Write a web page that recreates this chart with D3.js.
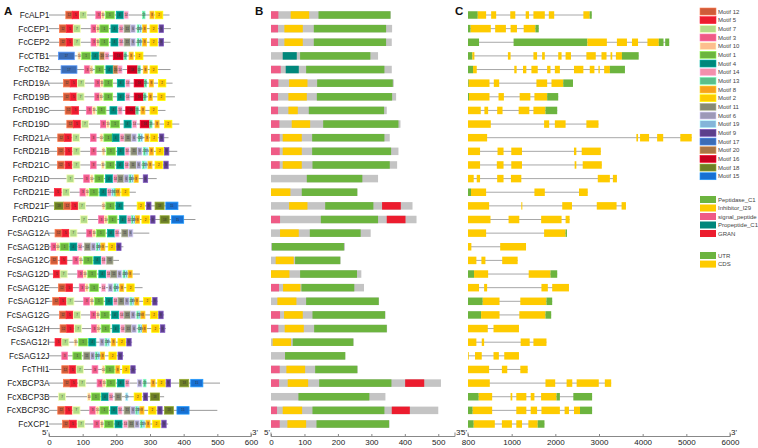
<!DOCTYPE html>
<html><head><meta charset="utf-8">
<script src="https://cdn.jsdelivr.net/npm/d3@7"></script>
<style>body{margin:0;background:#fff}svg{display:block;font-family:Arial,"Liberation Sans",sans-serif}</style>
</head><body><svg id="c" width="758" height="448"></svg>
<script>
const genes = ["FcALP1","FcCEP1","FcCEP2","FcCTB1","FcCTB2","FcRD19A","FcRD19B","FcRD19C","FcRD19D","FcRD21A","FcRD21B","FcRD21C","FcRD21D","FcRD21E","FcRD21F","FcRD21G","FcSAG12A","FcSAG12B","FcSAG12C","FcSAG12D","FcSAG12E","FcSAG12F","FcSAG12G","FcSAG12H","FcSAG12I","FcSAG12J","FcTHI1","FcXBCP3A","FcXBCP3B","FcXBCP3C","FcXCP1"];
const motifIds = [12,5,7,3,10,1,4,14,13,8,2,11,6,19,9,17,20,16,18,15];
const motifColors = ["#cf5b39","#ec1c2e","#b3dc88","#ef5b86","#fdbf8e","#6cb43f","#00877b","#f490ac","#5bbf8b","#f8a11d","#fecb00","#878a75","#9d98b7","#84b5d9","#5c3f8b","#3b6cb6","#a87545","#c8001e","#6d7f26","#1770d3"];
const motifWidths = [20,20,21,17,8,26,21,12,7,12,22,19,13,6,13,47,14,29,27,36];
const proteinLengths = [358,362,361,320,361,367,374,346,387,355,381,377,320,258,423,435,298,221,208,270,278,323,342,347,247,222,259,508,342,500,354];
const motifSites = [
 [[12,50],[5,69],[7,91],[3,139],[10,156],[1,168],[4,200],[14,223],[13,278],[8,300],[2,316]],
 [[12,31],[5,52],[7,72],[3,125],[10,141],[1,151],[4,184],[14,208],[11,223],[6,243],[13,262],[19,269],[8,278],[2,300],[9,327]],
 [[12,31],[5,52],[7,72],[3,125],[10,141],[1,151],[4,184],[14,208],[11,223],[6,243],[13,262],[19,269],[8,278],[2,300],[9,327]],
 [[17,28],[10,86],[1,97],[4,127],[20,151],[14,166],[16,191],[13,223],[8,238],[2,257]],
 [[17,36],[3,105],[10,122],[1,137],[4,169],[20,191],[14,205],[16,233],[13,264],[8,280],[2,300]],
 [[12,43],[5,63],[7,85],[3,136],[10,153],[1,163],[4,203],[14,228],[16,253],[13,283],[8,298],[2,325]],
 [[12,43],[5,63],[7,83],[3,136],[10,151],[1,163],[4,203],[14,228],[16,253],[13,281],[8,295],[2,323]],
 [[12,48],[5,68],[3,111],[10,130],[1,143],[4,181],[14,205],[16,228],[13,258],[8,273],[2,300]],
 [[12,53],[5,73],[7,96],[3,153],[10,171],[1,183],[4,223],[14,248],[16,271],[13,299],[8,315],[2,343]],
 [[12,26],[5,46],[7,70],[3,123],[10,152],[1,163],[4,188],[14,211],[11,225],[6,246],[13,265],[19,272],[8,285],[2,301],[9,328]],
 [[12,25],[5,48],[7,71],[3,123],[10,158],[1,171],[4,203],[14,226],[11,243],[6,263],[13,281],[19,288],[8,298],[2,318],[9,343]],
 [[12,25],[5,48],[7,71],[3,123],[10,156],[1,169],[4,201],[14,225],[11,240],[6,260],[13,278],[19,285],[8,294],[2,315],[9,341]],
 [[7,53],[3,103],[10,123],[1,136],[4,168],[14,191],[11,203],[6,223],[13,238],[19,245],[8,253],[9,280]],
 [[5,16],[7,40],[3,92],[10,110],[1,120],[4,151],[14,173],[19,186],[13,193],[8,199],[2,216]],
 [[18,16],[12,44],[5,67],[7,87],[10,158],[1,169],[4,199],[2,262],[9,290],[18,315],[15,347]],
 [[7,93],[3,147],[10,165],[1,176],[4,209],[14,232],[13,245],[19,251],[8,257],[2,276],[9,302],[18,330],[15,364]],
 [[12,18],[5,39],[7,62],[3,112],[10,130],[1,141],[4,174],[14,196],[11,216],[6,236]],
 [[3,6],[10,22],[1,33],[4,62],[14,86],[11,105],[6,125],[13,141],[19,147],[8,154],[2,176],[9,201]],
 [[12,5],[5,33],[3,71],[10,90],[1,103],[4,133],[14,156],[11,171]],
 [[5,13],[7,33],[3,85],[10,103],[1,115],[4,148],[14,171],[11,183],[6,203],[13,220],[19,227],[8,235]],
 [[12,28],[5,50],[3,90],[10,108],[1,121],[14,156],[6,176],[13,193],[19,200],[8,210],[2,231]],
 [[12,11],[5,31],[7,53],[3,103],[10,123],[1,135],[4,168],[14,191],[11,205],[6,225],[13,241],[19,247],[8,255],[2,281],[9,308]],
 [[12,31],[5,51],[7,73],[3,123],[10,141],[1,153],[4,186],[14,210],[11,223],[6,243],[13,261],[19,267],[8,273],[2,301],[9,326]],
 [[12,33],[5,53],[7,76],[3,126],[10,143],[1,155],[4,188],[14,213],[11,226],[6,246],[13,265],[19,271],[8,278],[2,305],[9,331]],
 [[5,18],[7,38],[10,75],[1,88],[4,118],[6,151],[13,167],[19,173],[8,185],[2,205],[9,231]],
 [[3,38],[1,71],[11,103],[6,123],[13,138],[19,145],[8,153],[2,178],[9,205]],
 [[12,38],[5,60],[7,81],[3,128],[10,158],[1,168],[8,198],[2,218],[9,243]],
 [[12,43],[5,63],[7,88],[3,143],[10,160],[1,171],[4,203],[14,226],[6,263],[13,281],[8,303],[2,323],[9,348],[18,388],[15,421]],
 [[7,28],[10,115],[1,126],[4,156],[14,178],[11,196],[19,228],[2,253],[9,280],[18,301]],
 [[12,26],[5,48],[7,71],[3,121],[10,140],[1,151],[4,183],[14,205],[11,223],[6,243],[13,258],[19,264],[8,270],[2,296],[9,323],[18,343],[15,380]],
 [[12,40],[5,61],[7,85],[3,133],[10,153],[1,165],[4,196],[14,221],[11,235],[6,255],[13,272],[19,279],[8,288],[2,308],[9,335]]
];
const domainNames = ["Peptidase_C1","Inhibitor_I29","signal_peptide","Propeptide_C1","GRAN"];
const domainColors = ["#6cb43f","#fecb00","#ef5b86","#00877b","#ec1c2e"];
// [domain index, start, end] in aa
const domainSites = [
 [[2,0,22],[1,59,114],[0,142,357]],
 [[2,0,21],[1,40,95],[0,128,344]],
 [[2,0,21],[1,40,95],[0,128,344]],
 [[3,35,77],[0,87,297]],
 [[2,0,29],[3,44,83],[0,105,339]],
 [[2,0,22],[1,54,109],[0,138,364]],
 [[2,0,21],[1,52,107],[0,137,362]],
 [[2,0,21],[1,52,80],[0,113,338]],
 [[2,0,25],[1,62,117],[0,156,381]],
 [[2,0,26],[1,35,92],[0,123,339]],
 [[2,0,26],[1,35,92],[0,123,359]],
 [[2,0,26],[1,35,92],[0,124,355]],
 [[0,107,273]],
 [[1,0,58],[0,92,258]],
 [[1,54,109],[0,162,306],[4,332,388]],
 [[2,0,27],[0,149,320],[4,346,402]],
 [[1,27,83],[0,116,268]],
 [[0,3,218]],
 [[1,14,68],[0,72,207]],
 [[1,0,55],[0,87,257]],
 [[2,0,24],[1,36,88],[0,91,249]],
 [[1,19,76],[0,105,322]],
 [[2,0,27],[1,39,95],[0,124,341]],
 [[2,0,22],[1,41,98],[0,129,346]],
 [[1,5,60],[0,65,246]],
 [[0,42,222]],
 [[2,0,26],[1,46,102],[0,132,258]],
 [[2,0,24],[1,50,111],[0,144,360],[4,401,458]],
 [[0,82,294]],
 [[2,0,18],[1,35,93],[0,124,339],[4,361,415]],
 [[2,0,26],[1,49,105],[0,136,353]]
];
const featureNames = ["UTR","CDS"];
const featureColors = ["#6cb43f","#fecb00"];
const geneLengths = [2834,1620,4608,3909,3594,2404,2066,2043,2988,5123,3041,3064,3410,2742,3617,2327,2266,1329,1137,2043,2312,1928,1905,1167,1797,1167,1367,3279,2842,2842,1751];
// [feature index (0 UTR, 1 CDS), start, end] in bp
const geneFeatures = [
 [[0,0,223],[1,223,415],[1,530,645],[1,968,1083],[1,1321,1398],[1,1498,1759],[1,1851,1974],[1,2642,2787],[0,2787,2834]],
 [[0,0,61],[1,61,522],[1,622,868],[1,975,1121],[1,1275,1544],[0,1544,1620]],
 [[0,0,253],[0,1044,2734],[1,2734,3180],[1,3410,3640],[1,3755,3894],[1,4109,4370],[0,4370,4477],[0,4516,4608]],
 [[0,0,100],[1,100,146],[1,914,975],[1,1498,1582],[1,1697,1759],[1,2066,2143],[1,2235,2358],[1,2711,2926],[1,3057,3172],[1,3264,3303],[1,3387,3525],[0,3525,3909]],
 [[0,0,115],[1,115,200],[1,1060,1114],[1,1260,1336],[1,1452,1597],[1,1812,1889],[1,1989,2104],[1,2427,2642],[1,2788,2895],[1,2987,3018],[1,3118,3249],[0,3249,3594]],
 [[0,0,15],[1,15,492],[1,591,714],[1,1567,1813],[1,1912,2181],[0,2181,2404]],
 [[0,0,23],[1,23,492],[1,699,822],[1,1183,1428],[1,1521,1813],[0,1813,2066]],
 [[1,0,292],[1,376,461],[1,668,791],[1,1160,1405],[1,1498,1774],[0,1774,2043]],
 [[1,0,522],[1,1743,1859],[1,1989,2235],[1,2711,2988]],
 [[1,0,438],[1,3856,3894],[1,3940,4147],[1,4331,4470],[1,4862,5123]],
 [[1,0,276],[1,676,814],[1,991,1236],[1,2427,2481],[1,2604,3041]],
 [[1,0,276],[1,660,814],[1,991,1236],[1,2442,2481],[1,2627,3064]],
 [[1,0,131],[1,200,276],[1,668,814],[1,983,1221],[1,2972,3249],[1,3318,3410]],
 [[0,0,69],[1,69,415],[1,1521,1759],[1,2542,2742]],
 [[1,0,484],[1,1221,1244],[1,2158,2381],[1,2949,3402],[1,3517,3617]],
 [[1,0,515],[1,929,1175],[1,1675,2143],[1,2235,2327]],
 [[1,0,415],[1,1743,2235],[0,2235,2266]],
 [[1,0,77],[1,737,1329]],
 [[1,0,192],[1,307,399],[1,783,1137]],
 [[0,0,138],[1,138,461],[1,1390,1889],[0,1889,2043]],
 [[1,0,253],[1,369,438],[1,1682,1828],[1,1928,2312]],
 [[0,0,338],[1,338,722],[1,1198,1797],[0,1797,1928]],
 [[0,0,300],[1,300,722],[1,1175,1774],[0,1774,1905]],
 [[1,0,453],[1,584,1167]],
 [[1,0,192],[1,315,369],[1,1206,1413],[1,1498,1797]],
 [[1,0,15],[1,161,315],[1,584,707],[1,830,1167]],
 [[1,0,484],[1,776,899],[1,1198,1367]],
 [[1,0,499],[1,1774,1997],[1,2258,2388],[1,2488,2995],[1,3133,3279]],
 [[0,0,246],[1,246,553],[1,975,1014],[1,1106,1336],[1,1436,1521],[1,1674,2028],[0,2028,2104],[0,2412,2842]],
 [[0,0,108],[1,108,553],[1,1106,1336],[1,1436,1582],[1,1682,2104],[1,2212,2312],[1,2427,2565],[0,2565,2842]],
 [[0,0,131],[1,131,614],[1,776,1006],[1,1106,1237],[1,1382,1597],[0,1597,1751]]
];
const ticksA = [0,100,200,300,400,500,600];
const ticksB = [0,100,200,300,400,500];
const ticksC = [0,1000,2000,3000,4000,5000,6000];
const tickLabelsC = ["800","1000","2000","3000","4000","5000","6000"];

const svg = d3.select("#c");
const xA = d3.scaleLinear().domain([0,600]).range([49,251]);
const xB = d3.scaleLinear().domain([0,550]).range([271,455]);
const xC = d3.scaleLinear().domain([0,6000]).range([468,730]);
const y = d3.scalePoint().domain(genes).range([15,424]);
const H = 7.5;
const mColor = d3.scaleOrdinal().domain(motifIds).range(motifColors);
const mWidth = d3.scaleOrdinal().domain(motifIds).range(motifWidths);
const axisY = 436.5;

// panel letters
[["A",4],["B",255],["C",455]].forEach(([t,x])=>svg.append("text").attr("x",x).attr("y",14.5).attr("font-size",11.5).attr("font-weight","bold").attr("fill","#111").text(t));

// ---- Panel A
const gA = svg.append("g");
genes.forEach((g,i)=>{
  const yy = y(g);
  gA.append("text").attr("x",49.5).attr("y",yy).attr("dy","0.35em").attr("text-anchor","end").attr("font-size",8.4).attr("fill","#222").text(g);
  gA.append("line").attr("x1",xA(0)).attr("x2",xA(proteinLengths[i])).attr("y1",yy).attr("y2",yy).attr("stroke","#9a9a9a").attr("stroke-width",1);
  const sel = gA.selectAll(null).data(motifSites[i]).enter();
  sel.append("rect").attr("x",d=>xA(d[1])).attr("y",yy-H/2).attr("width",d=>xA(d[1]+mWidth(d[0]))-xA(d[1])).attr("height",H)
    .attr("fill",d=>mColor(d[0])).attr("stroke",d=>d3.color(mColor(d[0])).brighter(0.9)).attr("stroke-width",0.8);
  sel.append("text").attr("x",d=>xA(d[1]+mWidth(d[0])/2)).attr("y",yy).attr("dy","0.35em").attr("text-anchor","middle")
    .attr("font-size",3).attr("fill","#333").text(d=>d[0]);
});

// ---- Panel B
const gB = svg.append("g");
genes.forEach((g,i)=>{
  const yy = y(g);
  gB.append("rect").attr("x",xB(0)).attr("y",yy-H/2).attr("width",xB(proteinLengths[i])-xB(0)).attr("height",H).attr("fill","#c4c4c4");
  gB.selectAll(null).data(domainSites[i]).enter().append("rect")
    .attr("x",d=>xB(d[1])).attr("y",yy-H/2).attr("width",d=>xB(d[2])-xB(d[1])).attr("height",H).attr("fill",d=>domainColors[d[0]]);
});

// ---- Panel C
const gC = svg.append("g");
genes.forEach((g,i)=>{
  const yy = y(g);
  gC.append("line").attr("x1",xC(0)).attr("x2",xC(geneLengths[i])).attr("y1",yy).attr("y2",yy).attr("stroke","#a8a8a8").attr("stroke-width",1);
  gC.selectAll(null).data(geneFeatures[i]).enter().append("rect")
    .attr("x",d=>xC(d[1])).attr("y",yy-H/2).attr("width",d=>Math.max(0.8,xC(d[2])-xC(d[1]))).attr("height",H).attr("fill",d=>featureColors[d[0]]);
});

// ---- Axes
function drawAxis(scale, ticks, labels, end){
  const ax = d3.axisBottom(scale).tickValues(ticks).tickSizeInner(-2.5).tickSizeOuter(0).tickPadding(3)
    .tickFormat((d,i)=>labels ? labels[i] : d);
  const g = svg.append("g").attr("transform",`translate(0,${axisY})`).call(ax);
  g.select(".domain").attr("d",`M${scale.range()[0]},0H${scale(end)}`).attr("stroke","#888");
  g.selectAll(".tick line").attr("stroke","#888");
  g.selectAll(".tick text").attr("font-size",8).attr("fill","#222").attr("font-family","Arial, 'Liberation Sans', sans-serif");
  g.append("line").attr("x1",scale.range()[0]).attr("x2",scale.range()[0]).attr("y1",-4).attr("y2",0).attr("stroke","#888");
  g.append("line").attr("x1",scale(end)).attr("x2",scale(end)).attr("y1",-4).attr("y2",0).attr("stroke","#888");
  g.append("text").attr("x",scale.range()[0]-1).attr("y",-1.5).attr("text-anchor","end").attr("font-size",8).attr("fill","#222").text("5'");
  g.append("text").attr("x",scale(end)+1).attr("y",-1.5).attr("text-anchor","start").attr("font-size",8).attr("fill","#222").text("3'");
}
drawAxis(xA, ticksA, null, 600);
drawAxis(xB, ticksB, null, 550);
drawAxis(xC, ticksC, tickLabelsC, 6000);

// ---- Legend
const gL = svg.append("g");
const lx = 700, sw = 16, sh = 7;
motifIds.forEach((m,i)=>{
  const yy = 11.5 + i*8.67;
  gL.append("rect").attr("x",lx).attr("y",yy-sh/2).attr("width",sw).attr("height",sh).attr("fill",mColor(m)).attr("stroke",d3.color(mColor(m)).brighter(0.9)).attr("stroke-width",0.6);
  gL.append("text").attr("x",lx+sw+2).attr("y",yy).attr("dy","0.35em").attr("font-size",6).attr("fill","#444").text("Motif "+m);
});
domainNames.forEach((n,i)=>{
  const yy = 199.5 + i*8.5;
  gL.append("rect").attr("x",lx).attr("y",yy-sh/2).attr("width",sw).attr("height",sh).attr("fill",domainColors[i]);
  gL.append("text").attr("x",lx+sw+2).attr("y",yy).attr("dy","0.35em").attr("font-size",6).attr("fill","#444").text(n);
});
featureNames.forEach((n,i)=>{
  const yy = 255.5 + i*8.6;
  gL.append("rect").attr("x",lx).attr("y",yy-sh/2).attr("width",sw).attr("height",sh).attr("fill",featureColors[i]);
  gL.append("text").attr("x",lx+sw+2).attr("y",yy).attr("dy","0.35em").attr("font-size",6).attr("fill","#444").text(n);
});
</script></body></html>
